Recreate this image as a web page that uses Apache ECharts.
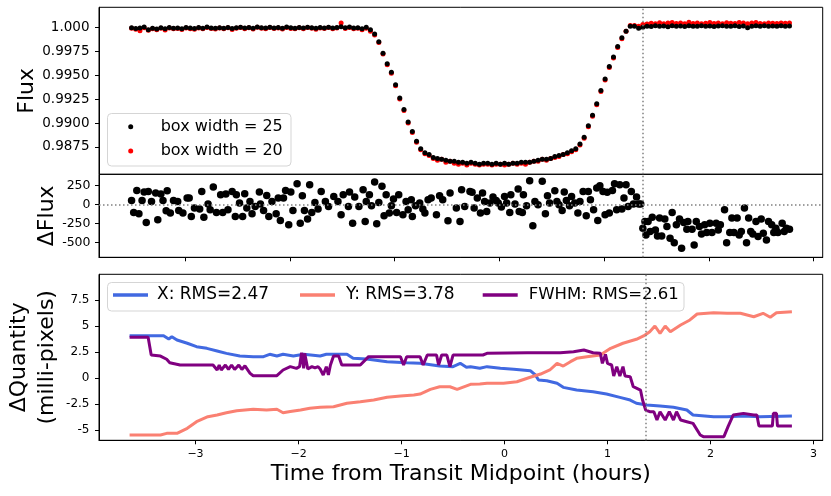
<!DOCTYPE html>
<html>
<head>
<meta charset="utf-8">
<script src="https://cdn.jsdelivr.net/npm/echarts@6/dist/echarts.min.js"></script>
<style>
html,body{margin:0;padding:0;background:#fff;}
#chart{width:831px;height:496px;}
</style>
</head>
<body>
<div id="chart"></div>
<script>
// ---------- data ----------
const fluxTime = [-3.51,-3.47,-3.43,-3.39,-3.35,-3.31,-3.27,-3.23,-3.19,-3.15,-3.11,-3.07,-3.03,-2.99,-2.95,-2.91,-2.87,-2.83,-2.79,-2.75,-2.71,-2.67,-2.63,-2.59,-2.55,-2.51,-2.47,-2.43,-2.39,-2.35,-2.31,-2.27,-2.23,-2.19,-2.15,-2.11,-2.07,-2.03,-1.99,-1.95,-1.91,-1.87,-1.83,-1.79,-1.75,-1.71,-1.67,-1.63,-1.59,-1.55,-1.51,-1.47,-1.43,-1.39,
-1.35,-1.31,-1.27,-1.23,-1.19,-1.15,-1.11,-1.07,-1.03,-0.99,-0.95,-0.91,-0.87,-0.83,-0.79,-0.75,-0.71,-0.67,-0.63,-0.59,-0.55,-0.51,-0.47,-0.43,-0.39,-0.35,-0.31,-0.27,-0.23,-0.19,-0.15,-0.11,-0.07,-0.03,0.01,0.05,0.09,0.13,0.17,0.21,0.25,0.29,0.33,0.37,0.41,0.45,0.49,0.53,0.57,0.61,0.65,0.69,0.73,0.77,0.81,0.85,0.89,0.93,0.97,1.01,1.05,1.09,1.13,1.17,1.21,1.25,1.29,1.33,1.37,
1.41,1.45,1.49,1.53,1.57,1.61,1.65,1.69,1.73,1.77,1.81,1.85,1.89,1.93,1.97,2.01,2.05,2.09,2.13,2.17,2.21,2.25,2.29,2.33,2.37,2.41,2.45,2.49,2.53,2.57,2.61,2.65,2.69,2.73,2.77];

const fluxBox25 = [0.99995,0.99988,0.99992,1.00003,0.99975,0.99990,0.99982,0.99996,0.99985,0.99998,0.99991,0.99994,0.99986,0.99999,0.99993,0.99988,0.99997,0.99990,1.00002,0.99994,0.99989,0.99996,0.99991,0.99999,0.99987,0.99995,1.00001,0.99993,0.99998,0.99990,1.00003,0.99996,0.99992,1.00001,0.99994,0.99998,0.99990,1.00002,0.99995,0.99991,0.99999,0.99993,1.00000,0.99996,0.99989,0.99998,0.99994,1.00001,0.99992,0.99997,1.00005,0.99996,1.00002,0.99994,
0.99995,0.99985,1.00000,0.99975,0.9993,0.9985,0.9973,0.9962,0.9953,0.9940,0.9926,0.9914,0.9901,0.9891,0.9881,0.9873,0.9869,0.9867,0.9864,0.9863,0.9862,0.9861,0.9860,0.9860,0.9859,0.9859,0.9858,0.9859,0.9858,0.9857,0.9858,0.9858,0.9857,0.9858,0.9857,0.9858,0.9857,0.9858,0.9858,0.9859,0.9859,0.9859,0.9860,0.9861,0.9862,0.9862,0.9863,0.9865,0.9866,0.9867,0.9869,0.9871,0.9873,0.9878,0.9885,0.9897,0.9908,0.9920,0.9934,0.9946,0.9959,0.9969,0.9980,0.9989,0.9996,1.0001,1.0001,0.9999,1.0000,
1.00012,1.00008,1.00015,1.00010,1.00014,1.00006,1.00016,1.00011,1.00013,1.00009,1.00015,1.00012,1.00010,1.00016,1.00011,1.00014,1.00008,1.00013,1.00015,1.00010,1.00012,1.00016,1.00009,1.00013,0.99995,1.00011,1.00015,1.00012,1.00016,1.00010,1.00013,1.00011,1.00015,1.00012,1.00013];

const fluxBox20 = [0.99990,0.99980,0.99965,0.99995,0.99970,0.99985,0.99975,0.99990,0.99972,0.99992,0.99985,0.99988,0.99978,0.99994,0.99986,0.99980,0.99992,0.99984,0.99998,0.99988,0.99982,0.99993,0.99985,0.99996,0.99978,0.99990,0.99998,0.99986,0.99995,0.99982,1.00000,0.99990,0.99984,0.99997,0.99987,0.99994,0.99983,0.99999,0.99988,0.99985,0.99995,0.99986,0.99998,0.99990,0.99980,0.99994,0.99987,0.99999,0.99984,0.99993,1.00045,0.99988,0.99998,0.99985,
0.99990,0.99975,0.99990,0.99960,0.9992,0.9984,0.9972,0.9961,0.9952,0.9939,0.9925,0.9913,0.9900,0.9890,0.9880,0.9872,0.9868,0.9866,0.9863,0.9861,0.9862,0.9859,0.9860,0.9858,0.9857,0.9858,0.9856,0.9858,0.9857,0.9856,0.9857,0.9857,0.9856,0.9857,0.9857,0.9856,0.9857,0.9858,0.9857,0.9858,0.9857,0.9859,0.9860,0.9860,0.9862,0.9861,0.9863,0.9864,0.9865,0.9867,0.9868,0.9870,0.9872,0.9877,0.9884,0.9896,0.9907,0.9919,0.9933,0.9945,0.9958,0.9968,0.9979,0.9988,0.9996,1.0002,1.0002,1.0001,1.0003,
1.00035,1.00042,1.00038,1.00048,1.00036,1.00044,1.00050,1.00039,1.00045,1.00037,1.00052,1.00041,1.00046,1.00038,1.00043,1.00049,1.00040,1.00044,1.00036,1.00047,1.00042,1.00039,1.00051,1.00044,1.00037,1.00045,1.00049,1.00041,1.00038,1.00046,1.00043,1.00040,1.00044,1.00042,1.00045];

const residTime = [-3.51,-3.46,-3.49,-3.44,-3.41,-3.39,-3.35,-3.37,-3.32,-3.28,-3.26,-3.23,-3.21,-3.17,-3.18,-3.14,-3.11,-3.07,-3.06,-3.02,-2.98,-2.96,-2.94,-2.91,-2.86,-2.84,-2.82,-2.78,-2.76,-2.73,-2.70,-2.66,-2.64,-2.61,-2.59,-2.55,-2.52,-2.51,-2.48,-2.45,-2.43,-2.41,-2.38,-2.36,-2.33,-2.29,-2.28,-2.25,-2.22,-2.20,-2.17,-2.13,-2.11,-2.09,-2.06,-2.04,-2.01,-1.99,-1.97,-1.93,-1.90,-1.88,-1.86,-1.83,-1.81,-1.79,-1.76,-1.73,-1.70,-1.66,-1.63,-1.58,-1.54,-1.51,-1.49,-1.44,-1.43,-1.40,-1.38,-1.34,-1.30,-1.28,-1.27,-1.24,-1.22,-1.19,-1.17,-1.15,-1.12,-1.10,-1.08,-1.05,-1.03,-1.01,-0.98,-0.96,-0.92,-0.89,-0.87,-0.84,-0.83,-0.80,-0.76,-0.73,-0.71,-0.68,-0.65,-0.60,-0.57,-0.54,-0.49,-0.47,-0.41,
-0.375,-0.36,-0.33,-0.28,-0.26,-0.24,-0.21,-0.18,-0.16,-0.14,-0.12,-0.09,-0.06,-0.03,-0.01,0.02,0.05,0.07,0.10,0.11,0.15,0.18,0.19,0.22,0.23,0.26,0.29,0.32,0.34,0.37,0.41,0.44,0.46,0.48,0.53,0.55,0.57,0.60,0.62,0.64,0.67,0.69,0.72,0.75,0.77,0.80,0.83,0.85,0.87,0.90,0.93,0.94,0.96,0.99,1.01,1.03,1.05,1.08,1.10,1.12,1.15,1.17,1.19,1.21,1.23,1.26,1.28,1.31,1.33,1.35,
1.37,1.39,1.40,1.42,1.44,1.46,1.49,1.51,1.53,1.55,1.58,1.60,1.63,1.65,1.67,1.69,1.72,1.74,1.76,1.79,1.80,1.84,1.86,1.88,1.91,1.93,1.96,1.98,2.01,2.03,2.07,2.09,2.11,2.15,2.17,2.20,2.22,2.24,2.27,2.29,2.31,2.34,2.36,2.38,2.40,2.42,2.45,2.47,2.50,2.52,2.55,2.57,2.60,2.62,2.64,2.66,2.70,2.72,2.74,2.77];

const residValue = [53,185,-106,-123,53,164,172,-238,40,150,-202,137,53,181,-83,-114,53,40,-79,-114,85,85,-159,-48,-61,172,-167,5,-70,230,-106,128,-106,137,-70,172,-159,128,18,-159,141,-48,40,-123,-26,164,5,-79,119,-159,40,-123,85,-212,85,185,-269,164,-79,274,-246,115,-79,-193,261,-106,26,-61,172,40,-26,106,40,-136,128,-26,164,-246,98,-26,194,-225,40,128,-17,296,-255,26,238,-150,128,-114,-17,71,-106,128,-136,40,-70,62,-159,-17,18,-61,-114,62,85,-136,115,62,-216,150,-48,
-225,194,-26,172,159,-48,85,-114,150,40,-92,18,98,53,18,-35,106,18,-106,128,5,203,-92,-106,128,-17,313,-282,40,-4,304,-123,115,18,181,40,-4,-79,164,53,-17,106,18,-114,40,172,-150,172,62,-70,217,-212,247,172,-136,159,-114,185,274,-70,261,-61,85,261,-26,172,5,98,5,5,
-312,-225,-401,-225,-357,-167,-335,-414,-180,-414,-193,-291,-445,-106,-503,-269,-193,-577,-238,-325,-225,-325,-533,-225,-291,-388,-269,-370,-246,-370,-246,-335,-269,-70,-503,-370,-180,-370,-180,-401,-357,-48,-503,-180,-357,-388,-225,-423,-193,-379,-467,-225,-269,-370,-312,-370,-246,-357,-312,-325];

const xTime  = [-3.64,-3.31,-3.26,-3.23,-3.18,-3.08,-2.99,-2.89,-2.79,-2.70,-2.57,-2.44,-2.34,-2.28,-2.21,-2.15,-2.05,-1.95,-1.79,-1.73,-1.53,-1.47,-1.34,-1.14,-0.95,-0.82,-0.63,-0.50,-0.43,-0.37,-0.33,-0.24,-0.17,-0.04,0.09,0.25,0.30,0.33,0.41,0.51,0.57,0.70,0.86,0.99,1.12,1.22,1.28,1.38,1.51,1.64,1.77,1.83,2.03,2.16,2.32,2.48,2.79];
const xValue = [4.10,4.10,3.78,4.00,3.68,3.37,3.04,2.88,2.63,2.40,2.14,2.08,2.08,2.31,2.14,2.31,2.14,2.31,2.14,2.31,2.31,1.92,1.86,1.60,1.50,1.44,1.18,1.12,1.44,1.06,1.12,0.96,1.12,0.96,0.87,0.73,0.32,-0.16,-0.23,-0.48,-0.87,-1.13,-1.29,-1.51,-1.83,-2.09,-2.40,-2.57,-2.66,-2.79,-3.05,-3.53,-3.69,-3.69,-3.62,-3.69,-3.62];

const yTime  = [-3.64,-3.34,-3.28,-3.18,-3.08,-2.99,-2.88,-2.79,-2.70,-2.60,-2.44,-2.31,-2.21,-2.15,-2.08,-1.98,-1.89,-1.79,-1.66,-1.53,-1.40,-1.27,-1.14,-1.01,-0.88,-0.82,-0.72,-0.63,-0.53,-0.46,-0.33,-0.24,-0.17,-0.01,0.12,0.25,0.35,0.44,0.51,0.57,0.64,0.70,0.80,0.93,1.03,1.15,1.28,1.35,1.41,1.46,1.51,1.56,1.61,1.71,1.80,1.87,2.03,2.16,2.29,2.42,2.51,2.58,2.64,2.79];
const yValue = [-5.45,-5.45,-5.29,-5.29,-4.81,-4.17,-3.69,-3.53,-3.31,-3.11,-2.98,-3.05,-2.98,-3.31,-3.20,-3.05,-2.88,-2.79,-2.73,-2.40,-2.25,-2.09,-1.83,-1.70,-1.61,-1.51,-1.06,-0.81,-0.81,-1.06,-0.58,-0.55,-0.48,-0.48,-0.33,0.10,0.41,0.80,1.44,1.18,1.60,1.92,2.08,2.24,2.88,3.37,3.75,4.07,4.48,5.03,4.33,5.03,4.48,5.13,5.61,6.18,6.31,6.25,6.25,5.92,6.25,5.87,6.31,6.40];

const fwhmTime  = [-3.64,-3.46,-3.43,-3.34,-3.28,-3.25,-3.15,-2.83,-2.79,-2.77,-2.75,-2.71,-2.68,-2.65,-2.62,-2.58,-2.55,-2.52,-2.47,-2.44,-2.21,-2.15,-2.08,-2.02,-1.99,-1.97,-1.95,-1.94,-1.91,-1.87,-1.84,-1.81,-1.79,-1.76,-1.73,-1.71,-1.69,-1.66,-1.61,-1.58,-1.40,-1.32,-1.01,-0.98,-0.95,-0.82,-0.79,-0.75,-0.66,-0.64,-0.61,-0.56,-0.53,-0.50,-0.21,-0.17,0.22,0.54,0.67,0.77,0.86,0.93,0.95,0.98,1.00,1.04,1.06,1.09,1.12,1.15,1.17,1.22,1.25,1.32,1.34,1.37,1.41,1.45,1.48,1.51,1.56,1.60,1.64,1.67,1.71,1.77,1.83,1.90,1.93,2.13,2.17,2.22,2.32,2.42,2.45,2.47,2.60,2.61,2.64,2.65,2.79];
const fwhmValue = [3.94,3.94,2.24,2.14,1.83,1.50,1.28,1.28,0.80,1.28,0.80,1.28,0.85,1.28,0.85,1.28,0.85,1.20,0.48,0.25,0.25,0.80,1.12,0.96,1.12,2.46,0.96,2.40,0.90,1.12,1.00,1.12,0.90,0.32,1.12,0.32,1.28,2.14,2.14,1.28,1.28,2.08,2.08,1.28,2.08,2.08,1.28,2.24,2.24,1.28,2.24,2.24,1.12,2.24,2.24,2.40,2.46,2.46,2.56,2.72,2.46,2.40,1.44,2.30,1.44,1.28,0.22,1.12,0.22,1.12,0.22,0.16,-0.81,-1.13,-2.09,-3.05,-3.21,-3.21,-4.01,-3.21,-4.01,-3.21,-4.01,-3.21,-4.01,-4.17,-4.33,-5.45,-5.61,-5.61,-4.65,-3.53,-3.37,-3.53,-3.53,-4.59,-4.59,-3.37,-3.37,-4.59,-4.59];

const transitEnd = 1.369;   // vertical dotted marker (hours)

// tick values and labels
const fluxTicks = [0.9875,0.99,0.9925,0.995,0.9975,1.0];
const fluxTickLabels = ['0.9875','0.9900','0.9925','0.9950','0.9975','1.000'];
const residTicks = [-500,-250,0,250];
const residTickLabels = ['-500','-250','0','250'];
const quantTicks = [-5,-2.5,0,2.5,5,7.5];
const quantTickLabels = ['-5','-2.5','0','2.5','5','7.5'];
const timeTicks = [-3,-2,-1,0,1,2,3];
const timeTickLabels = ['\u22123','\u22122','\u22121','0','1','2','3'];

const seriesNames = ['box width = 25','box width = 20','X: RMS=2.47','Y: RMS=3.78','FWHM: RMS=2.61'];

// ---------- chart ----------
const FONT = 'DejaVu Sans';
const zip = (a, b) => a.slice(0, Math.min(a.length, b.length)).map((v, i) => [v, b[i]]);
const lab = (ticks, labels) => v => { const i = ticks.findIndex(t => Math.abs(t - v) < 1e-7); return i >= 0 ? labels[i] : ''; };

const chart = echarts.init(document.getElementById('chart'), null, {renderer: 'canvas'});
const gridBase = {left: 99, width: 723.7, show: true, borderColor: '#000', borderWidth: 1, backgroundColor: 'transparent', containLabel: false, outerBoundsMode: 'none'};
const dotted = {type: [1.5, 2.5], color: '#808080', width: 1.5};
const vline = (x) => ({silent: true, symbol: ['none','none'], label: {show: false}, lineStyle: dotted, data: [{xAxis: x}], animation: false});

const yAxisCommon = (min, max, ticks, labels, fs, margin, name, gap) => ({
  type: 'value', min: min, max: max,
  axisLine: {show: true, onZero: false, lineStyle: {color: '#000', width: 1}},
  axisTick: {show: true, length: 4, lineStyle: {color: '#000'}, customValues: ticks},
  axisLabel: {show: true, customValues: ticks, formatter: lab(ticks, labels), fontFamily: FONT, fontSize: fs, color: '#000', margin: margin},
  splitLine: {show: false},
  name: name, nameLocation: 'middle', nameRotate: 90, nameGap: gap, nameMoveOverlap: false,
  nameTextStyle: {fontFamily: FONT, fontSize: 22, color: '#000', lineHeight: 28}
});

const legendText = (pad, fs) => ({fontFamily: FONT, fontSize: fs, color: '#000', lineHeight: 20,
  rich: {p: {fontFamily: FONT, fontSize: fs, color: '#000', lineHeight: 20, padding: [0, 0, 0, pad]}}});

const option = {
  animation: false,
  backgroundColor: '#fff',
  grid: [
    Object.assign({top: 7.3, height: 167}, gridBase),
    Object.assign({top: 174.3, height: 83}, gridBase),
    Object.assign({top: 274.3, height: 166}, gridBase)
  ],
  xAxis: [
    {gridIndex: 0, type: 'value', min: -3.821, max: 3.087, axisLine: {show: false, onZero: false}, axisTick: {show: false}, axisLabel: {show: false}, splitLine: {show: false}},
    {gridIndex: 1, type: 'value', min: -3.821, max: 3.087, axisLine: {show: true, onZero: false, lineStyle: {color: '#000'}},
     axisTick: {show: true, length: 4, lineStyle: {color: '#000'}, customValues: timeTicks}, axisLabel: {show: false}, splitLine: {show: false}},
    {gridIndex: 2, type: 'value', min: -3.937, max: 3.089, axisLine: {show: true, onZero: false, lineStyle: {color: '#000'}},
     axisTick: {show: true, length: 4, lineStyle: {color: '#000'}, customValues: timeTicks},
     axisLabel: {show: true, customValues: timeTicks, formatter: lab(timeTicks, timeTickLabels), fontFamily: FONT, fontSize: 11, color: '#000', margin: 8},
     splitLine: {show: false},
     name: 'Time from Transit Midpoint (hours)', nameLocation: 'middle', nameGap: 23, nameMoveOverlap: false,
     nameTextStyle: {fontFamily: FONT, fontSize: 22, color: '#000'}}
  ],
  yAxis: [
    Object.assign({gridIndex: 0}, yAxisCommon(0.98464, 1.00209, fluxTicks, fluxTickLabels, 13.5, 9.5, 'Flux', 58)),
    Object.assign({gridIndex: 1}, yAxisCommon(-696, 397, residTicks, residTickLabels, 12.5, 8.5, '\u0394Flux', 38)),
    Object.assign({gridIndex: 2}, yAxisCommon(-5.96, 10.0, quantTicks, quantTickLabels, 12, 9.5, '\u0394Quantity\n(milli-pixels)', 38))
  ],
  legend: [
    {data: [{name: seriesNames[0], icon: 'circle'}], left: 128.2, top: 116.7, padding: 0, itemWidth: 5, itemHeight: 5, selectedMode: false,
     textStyle: legendText(22.5, 16), formatter: '{p|{name}}'},
    {data: [{name: seriesNames[1], icon: 'circle'}], left: 128.2, top: 141, padding: 0, itemWidth: 5, itemHeight: 5, selectedMode: false,
     textStyle: legendText(22.5, 16), formatter: '{p|{name}}'},
    {data: [{name: seriesNames[2], icon: 'rect'}], left: 113, top: 285, padding: 0, itemWidth: 35, itemHeight: 3.5, selectedMode: false,
     textStyle: legendText(4, 17), formatter: '{p|{name}}'},
    {data: [{name: seriesNames[3], icon: 'rect'}], left: 300, top: 285, padding: 0, itemWidth: 35, itemHeight: 3.5, selectedMode: false,
     textStyle: legendText(6, 17), formatter: '{p|{name}}'},
    {data: [{name: seriesNames[4], icon: 'rect'}], left: 482.7, top: 285, padding: 0, itemWidth: 35, itemHeight: 3.5, selectedMode: false,
     textStyle: legendText(6, 16.5), formatter: '{p|{name}}'}
  ],
  graphic: [
    {type: 'rect', z: 3, silent: true, shape: {x: 107.5, y: 113.5, width: 183.5, height: 52.5, r: 4}, style: {fill: 'rgba(255,255,255,0.8)', stroke: '#d5d5d5', lineWidth: 1}},
    {type: 'rect', z: 3, silent: true, shape: {x: 107.5, y: 282.5, width: 576.5, height: 28.5, r: 4}, style: {fill: 'rgba(255,255,255,0.8)', stroke: '#d5d5d5', lineWidth: 1}}
  ],
  series: [
    {name: seriesNames[1], type: 'scatter', xAxisIndex: 0, yAxisIndex: 0, symbolSize: 5, itemStyle: {color: '#ff0000', opacity: 1}, data: zip(fluxTime, fluxBox20)},
    {name: seriesNames[0], type: 'scatter', xAxisIndex: 0, yAxisIndex: 0, symbolSize: 5, itemStyle: {color: '#000000', opacity: 1}, data: zip(fluxTime, fluxBox25), markLine: vline(transitEnd)},
    {name: 'residual', type: 'scatter', xAxisIndex: 1, yAxisIndex: 1, symbolSize: 7.5, itemStyle: {color: '#000000', opacity: 1}, data: zip(residTime, residValue),
     markLine: {silent: true, symbol: ['none','none'], label: {show: false}, lineStyle: dotted, data: [{yAxis: 0}, {xAxis: transitEnd}]}},
    {name: seriesNames[2], type: 'line', xAxisIndex: 2, yAxisIndex: 2, showSymbol: false, symbol: 'none', lineStyle: {color: '#4169e1', width: 3}, itemStyle: {color: '#4169e1'}, data: zip(xTime, xValue), markLine: vline(transitEnd)},
    {name: seriesNames[3], type: 'line', xAxisIndex: 2, yAxisIndex: 2, showSymbol: false, symbol: 'none', lineStyle: {color: '#fa8072', width: 3}, itemStyle: {color: '#fa8072'}, data: zip(yTime, yValue)},
    {name: seriesNames[4], type: 'line', xAxisIndex: 2, yAxisIndex: 2, showSymbol: false, symbol: 'none', lineStyle: {color: '#800080', width: 3}, itemStyle: {color: '#800080'}, data: zip(fwhmTime, fwhmValue)}
  ]
};
chart.setOption(option);
</script>
</body>
</html>
